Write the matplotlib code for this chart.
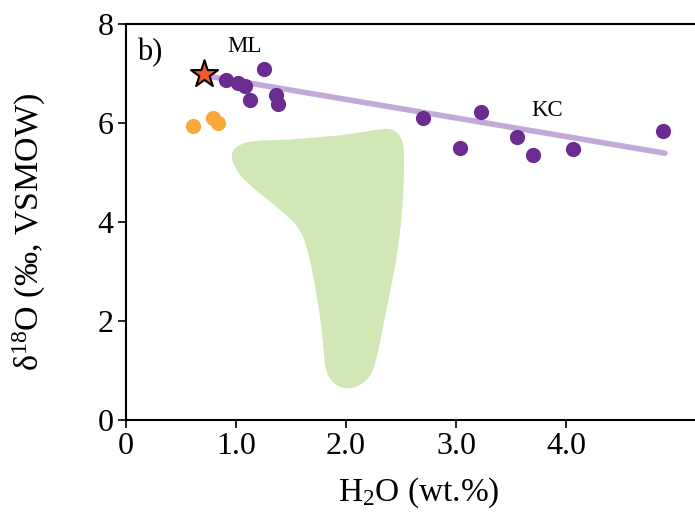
import numpy as np
import matplotlib.pyplot as plt
from matplotlib.patches import PathPatch
from matplotlib.path import Path

plt.rcParams['font.family'] = 'Liberation Serif'
plt.rcParams['mathtext.fontset'] = 'custom'
plt.rcParams['mathtext.rm'] = 'Liberation Serif'
plt.rcParams['mathtext.it'] = 'Liberation Serif:italic'

# KC samples (purple)
kc_h2o = [0.91, 1.02, 1.08, 1.25, 1.13, 1.36, 1.38, 2.70, 3.23, 3.04, 3.55, 3.70, 4.06, 4.88]
kc_d18o = [6.87, 6.81, 6.75, 7.09, 6.46, 6.57, 6.38, 6.10, 6.22, 5.49, 5.72, 5.35, 5.47, 5.84]

# ML samples (orange)
ml_h2o = [0.61, 0.79, 0.84]
ml_d18o = [5.94, 6.10, 6.00]

# star
star_h2o = [0.71]
star_d18o = [6.99]

# trend line
trend_h2o = [0.79, 4.90]
trend_d18o = [6.93, 5.39]

# green field outline
field_h2o = [0.96, 1.04, 1.16, 1.46, 1.76, 2.07, 2.31, 2.43, 2.51, 2.52, 2.51, 2.46, 2.40,
             2.34, 2.28, 2.23, 2.13, 2.01, 1.89, 1.82, 1.81, 1.78, 1.73, 1.67, 1.60, 1.49,
             1.31, 1.10, 0.99]
field_d18o = [5.39, 5.56, 5.62, 5.64, 5.69, 5.76, 5.86, 5.86, 5.66, 5.25, 4.38, 3.37, 2.69,
              2.02, 1.35, 0.94, 0.71, 0.64, 0.74, 1.01, 1.35, 2.02, 2.69, 3.37, 3.84, 4.11,
              4.44, 4.81, 5.12]


def smooth_path(xs, ys):
    # closed quadratic bezier through midpoints, vertices as control points
    pts = np.column_stack([xs, ys])
    n = len(pts)
    mids = (pts + np.roll(pts, -1, axis=0)) / 2
    verts = [mids[-1]]
    codes = [Path.MOVETO]
    for i in range(n):
        verts += [pts[i], mids[i]]
        codes += [Path.CURVE3, Path.CURVE3]
    return Path(verts, codes)


fig = plt.figure(figsize=(6.95, 5.12), dpi=100)
ax = fig.add_axes([126 / 695, 92 / 512, 583 / 695, 396 / 512])

ax.add_patch(PathPatch(smooth_path(field_h2o, field_d18o), facecolor='#d2e7b6',
                       edgecolor='#d2e7b6', lw=1.5, zorder=1))
ax.plot(trend_h2o, trend_d18o, color='#c3a9d8', lw=4, solid_capstyle='round', zorder=2)
ax.scatter(kc_h2o, kc_d18o, s=120, color='#6a2c91', zorder=3, linewidths=0)
ax.scatter(ml_h2o, ml_d18o, s=120, color='#f9a93a', zorder=3, linewidths=0)
ax.scatter(star_h2o, star_d18o, s=420, marker='*', color='#f0592a', edgecolor='black',
           linewidths=1.5, zorder=4)

ax.text(0.22, 7.43, 'b)', fontsize=22, ha='center', va='center')
ax.text(1.08, 7.54, 'ML', fontsize=16.5, ha='center', va='center')
ax.text(3.83, 6.26, 'KC', fontsize=16.5, ha='center', va='center')

ax.set_xlim(0, 5.3)
ax.set_ylim(0, 8)
ax.set_xticks([0, 1, 2, 3, 4])
ax.set_xticklabels(['0', '1.0', '2.0', '3.0', '4.0'])
ax.set_yticks([0, 2, 4, 6, 8])
ax.tick_params(labelsize=23, direction='out', length=6, width=1.2, pad=3)
for s in ax.spines.values():
    s.set_linewidth(1.5)

ax.set_xlabel('H$_2$O (wt.%)', fontsize=24)
ax.xaxis.set_label_coords((419 - 126) / 583, -0.14)
ax.set_ylabel('δ$^{18}$O (‰, VSMOW)', fontsize=24.5)
ax.yaxis.set_label_coords(-(126 - 48) / 583, 0.476)

fig.savefig('out.png', dpi=100)
